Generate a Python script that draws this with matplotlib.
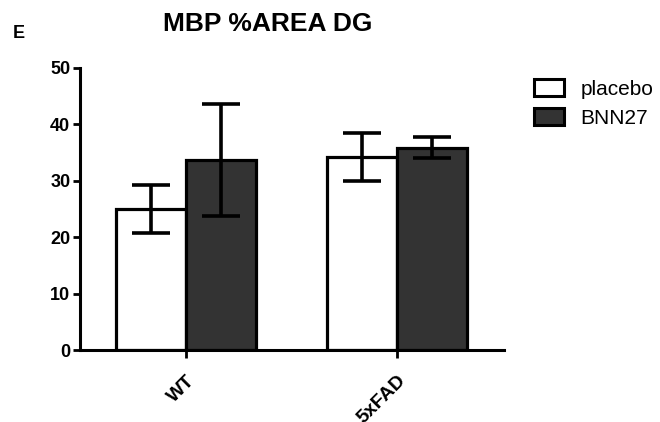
import matplotlib
matplotlib.use("Agg")
import matplotlib.pyplot as plt
import numpy as np

groups = ["WT", "5xFAD"]
series = ["placebo", "BNN27"]
placebo_mean = [25.0, 34.2]
placebo_err = [4.2, 4.2]
bnn27_mean = [33.7, 35.9]
bnn27_err = [10.0, 1.9]
yticks = [0, 10, 20, 30, 40, 50]

plt.rcParams['font.family'] = ['Liberation Sans', 'DejaVu Sans']

fig = plt.figure(figsize=(6.6, 4.22), dpi=100)
ax = fig.add_axes([0.1212, 0.1706, 0.6424, 0.6683])

x = np.arange(len(groups))
w = 0.332
lw = 2.3
ax.bar(x - w/2, placebo_mean, w, color="white", edgecolor="black", linewidth=lw, label=series[0], zorder=2)
ax.bar(x + w/2, bnn27_mean, w, color="#333333", edgecolor="black", linewidth=lw, label=series[1], zorder=2)
ax.errorbar(x - w/2, placebo_mean, yerr=placebo_err, fmt="none", ecolor="black", elinewidth=2.6, capsize=13.5, capthick=2.6, zorder=3)
ax.errorbar(x + w/2, bnn27_mean, yerr=bnn27_err, fmt="none", ecolor="black", elinewidth=2.6, capsize=13.5, capthick=2.6, zorder=3)

ax.set_xlim(-0.502, 1.507)
ax.set_ylim(0, 50)
ax.set_yticks(yticks)
ax.set_yticklabels([str(t) for t in yticks], fontsize=13, fontweight="bold")
ax.set_xticks(x)
ax.set_xticklabels(groups, fontsize=14, fontweight="bold", rotation=45, ha="right", rotation_mode="anchor")
for s in ["top", "right"]:
    ax.spines[s].set_visible(False)
for s in ["left", "bottom"]:
    ax.spines[s].set_linewidth(2.2)
ax.tick_params(axis="y", width=2, length=5, pad=2)
ax.tick_params(axis="x", width=2, length=6, pad=10)

leg = fig.legend(loc="upper left", bbox_to_anchor=(0.780, 0.857), frameon=False,
                 fontsize=15, handlelength=1.44, handleheight=0.87, handletextpad=0.8, labelspacing=0.45)
for p in leg.get_patches():
    p.set_linewidth(2.2)

fig.text(0.405, 0.943, "MBP %AREA DG", fontsize=19, fontweight="bold", ha="center", va="center")
fig.text(0.028, 0.921, "E", fontsize=13, fontweight="bold", ha="center", va="center")

fig.savefig("out.png", dpi=100, facecolor="white")
